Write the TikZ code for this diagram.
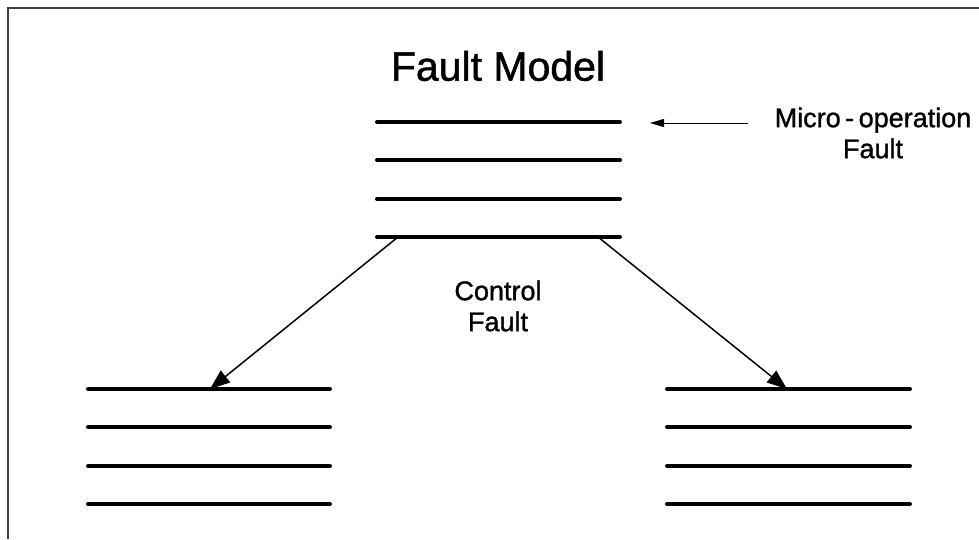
\documentclass[tikz,border=0pt]{standalone}
\usepackage{fontspec}
\setmainfont{Liberation Sans}[FakeBold=1.2]
\newfontfamily\heavy{Liberation Sans}[FakeBold=1.2,UprightFont=*,BoldFont=*]
\usetikzlibrary{arrows.meta}
\begin{document}
\begin{tikzpicture}[x=1pt,y=-1pt,
  level/.style={line width=4pt,line cap=round},
  conn/.style={line width=1.5pt,-{Triangle[length=20pt,width=15pt]}},
  thin/.style={line width=1pt,-{Triangle[length=14pt,width=8pt]}},
  lbl/.style={font=\heavy\bfseries\fontsize{27}{31}\selectfont,align=center,inner sep=0pt},
  frame/.style={draw=black!75,line width=1.6pt}]
\useasboundingbox (0,0) rectangle (979,539);
\draw[frame] (979,8) -- (8,8) -- (8,539);
\node[font=\heavy\bfseries\fontsize{41}{46}\selectfont,inner sep=0pt] (title) at (498,66) {Fault Model};
% top stack
\foreach \i/\y in {1/122,2/160,3/199,4/237}{
  \coordinate (t\i a) at (377,\y); \coordinate (t\i b) at (620,\y);
  \draw[level] (t\i a) -- (t\i b);
  \coordinate (l\i a) at (88,\y+267); \coordinate (l\i b) at (330,\y+267);
  \draw[level] (l\i a) -- (l\i b);
  \coordinate (r\i a) at (667,\y+267); \coordinate (r\i b) at (910,\y+267);
  \draw[level] (r\i a) -- (r\i b);
}
\node[lbl] (micro) at (873,133) {Micro\,-\,operation\\Fault};
\coordinate (ms) at (748,123);
\coordinate (me) at (650,123);
\draw[thin] (ms) -- (me);
\node[lbl] (ctrl) at (498,306) {Control\\Fault};
\coordinate (ls) at (398,237);
\coordinate (le) at (210,389);
\coordinate (rs) at (598,237);
\coordinate (re) at (787,389);
\draw[conn] (ls) -- (le);
\draw[conn] (rs) -- (re);
\end{tikzpicture}
\end{document}
